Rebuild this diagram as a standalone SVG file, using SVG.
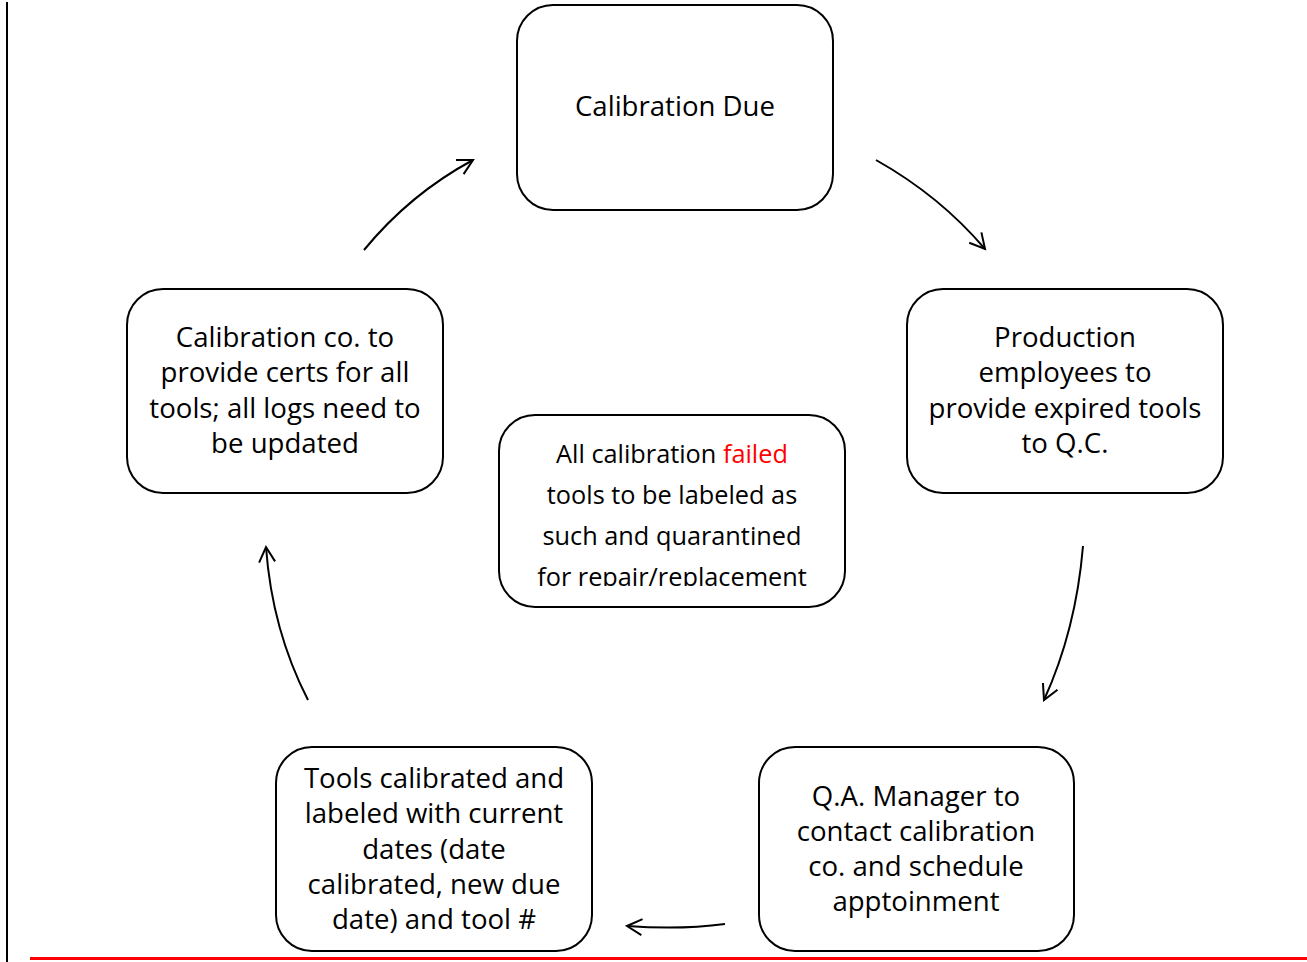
<svg xmlns="http://www.w3.org/2000/svg" width="1307" height="962" viewBox="0 0 1307 962">
<style>
.box{fill:#fff;stroke:#000;stroke-width:2}
.t{font-family:"Open Sans","Noto Sans",sans-serif;font-size:27.6px;fill:#000;text-anchor:middle}
.s{font-size:25.3px}
.c{fill:none;stroke:#000;stroke-width:2}
</style>
<defs>
<marker id="ah" markerUnits="userSpaceOnUse" markerWidth="30" markerHeight="30" refX="0" refY="0" viewBox="-20 -15 30 30" orient="auto" overflow="visible">
<path d="M-15,-8 L0,0 L-15,8" fill="none" stroke="#000" stroke-width="2"/>
</marker>
<clipPath id="cc"><rect x="499" y="415" width="346" height="171"/></clipPath>
</defs>
<rect width="1307" height="962" fill="#fff"/>
<line x1="7" y1="2" x2="7" y2="962" stroke="#000" stroke-width="2"/>
<line x1="30" y1="958.5" x2="1307" y2="958.5" stroke="#f00" stroke-width="3"/>
<g id="connectors">
<path class="c" d="M876,160 Q940,196 985,249" marker-end="url(#ah)"/>
<path class="c" d="M1083,546 Q1076,630 1044,700" marker-end="url(#ah)"/>
<path class="c" d="M725,924 Q680,930 627,926" marker-end="url(#ah)"/>
<path class="c" d="M308,700 Q272,630 266,547" marker-end="url(#ah)"/>
<path class="c" d="M364,250 Q410,194 473,160" marker-end="url(#ah)"/>
</g>
<g id="n1">
<rect class="box" x="517" y="5" width="316" height="205" rx="36"/>
<text class="t" x="675" y="116">Calibration Due</text>
</g>
<g id="n2">
<rect class="box" x="907" y="289" width="316" height="204" rx="36"/>
<text class="t" x="1065" y="347">Production</text>
<text class="t" x="1065" y="382">employees to</text>
<text class="t" x="1065" y="418">provide expired tools</text>
<text class="t" x="1065" y="453">to Q.C.</text>
</g>
<g id="n3">
<rect class="box" x="759" y="747" width="315" height="204" rx="36"/>
<text class="t" x="916" y="806">Q.A. Manager to</text>
<text class="t" x="916" y="841">contact calibration</text>
<text class="t" x="916" y="876">co. and schedule</text>
<text class="t" x="916" y="911">apptoinment</text>
</g>
<g id="n4">
<rect class="box" x="276" y="747" width="316" height="204" rx="36"/>
<text class="t" x="434" y="788">Tools calibrated and</text>
<text class="t" x="434" y="823">labeled with current</text>
<text class="t" x="434" y="859">dates (date</text>
<text class="t" x="434" y="894">calibrated, new due</text>
<text class="t" x="434" y="929">date) and tool #</text>
</g>
<g id="n5">
<rect class="box" x="127" y="289" width="316" height="204" rx="36"/>
<text class="t" x="285" y="347">Calibration co. to</text>
<text class="t" x="285" y="382">provide certs for all</text>
<text class="t" x="285" y="418">tools; all logs need to</text>
<text class="t" x="285" y="453">be updated</text>
</g>
<g id="n6">
<rect class="box" x="499" y="415" width="346" height="192" rx="36"/>
<g clip-path="url(#cc)">
<text class="t s" x="672" y="463">All calibration <tspan fill="#f00">failed</tspan></text>
<text class="t s" x="672" y="504">tools to be labeled as</text>
<text class="t s" x="672" y="545">such and quarantined</text>
<text class="t s" x="672" y="586">for repair/replacement</text>
</g>
</g>
</svg>
